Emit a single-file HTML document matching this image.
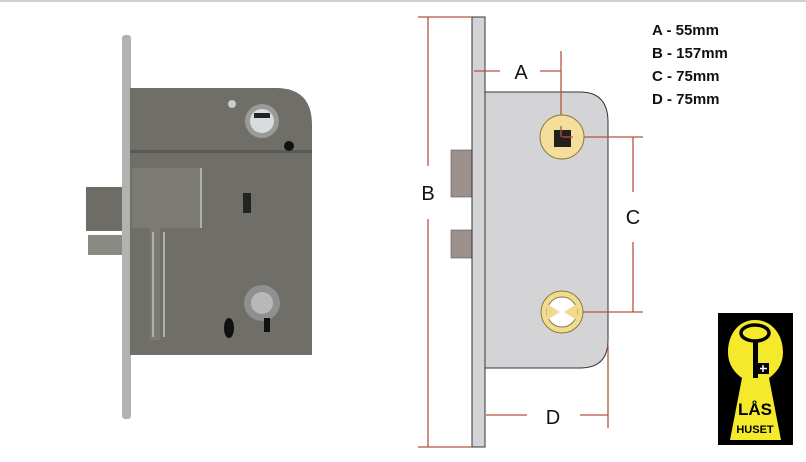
<!DOCTYPE html>
<html><head><meta charset="utf-8"><style>
html,body{margin:0;padding:0;background:#fff;width:806px;height:462px;overflow:hidden}
svg{display:block}
</style></head><body>
<svg width="806" height="462" viewBox="0 0 806 462" xmlns="http://www.w3.org/2000/svg">
<rect width="806" height="462" fill="#fff"/>
<rect x="0" y="0" width="806" height="2" fill="#cfcfcf"/>
<!-- photo lock -->
<rect x="86" y="187" width="40" height="44" fill="#6d6c67"/>
<rect x="88" y="235" width="38" height="20" fill="#8a8a84"/>
<rect x="122" y="35" width="9" height="384" rx="3" fill="#b2b2ae"/>
<path d="M130 88 H276 Q312 88 312 125 V355 H130 Z" fill="#6f6e69"/>
<rect x="130" y="150" width="182" height="3" fill="#5a5955"/>
<path d="M132 168 H200 V228 H160 V340 H150 V228 H132 Z" fill="#7b7a75"/>
<rect x="200" y="168" width="2" height="60" fill="#b0b0aa"/>
<rect x="152" y="232" width="2" height="105" fill="#b0b0aa"/>
<rect x="163" y="232" width="2" height="105" fill="#b0b0aa"/>
<circle cx="262" cy="121" r="17" fill="#9a9a96"/>
<circle cx="262" cy="121" r="12" fill="#d8dbe0"/>
<rect x="254" y="113" width="16" height="5" fill="#222"/>
<circle cx="289" cy="146" r="5" fill="#111"/>
<circle cx="232" cy="104" r="4" fill="#ccc"/>
<circle cx="262" cy="303" r="18" fill="#909090"/>
<circle cx="262" cy="303" r="11" fill="#b8b8b8"/>
<rect x="264" y="318" width="6" height="14" fill="#111"/>
<ellipse cx="229" cy="328" rx="5" ry="10" fill="#111"/>
<rect x="243" y="193" width="8" height="20" fill="#222"/>
<!-- diagram -->
<rect x="451" y="150" width="21" height="47" fill="#9c918c" stroke="#555" stroke-width="0.6"/>
<rect x="451" y="230" width="21" height="28" fill="#9c918c" stroke="#555" stroke-width="0.6"/>
<rect x="472" y="17" width="13" height="430" fill="#d4d4d6" stroke="#333" stroke-width="1"/>
<path d="M485 92 H580 Q608 92 608 122 V340 Q608 368 580 368 H485 Z" fill="#d4d4d6" stroke="#333" stroke-width="1"/>
<g stroke="#b5543d" stroke-width="1.3" fill="none">
<path d="M418 17 H472 M428 17 V166 M428 219 V447 M418 447 H472"/>
<path d="M474 71 H500 M540 71 H561 M561 51 V137"/>
<path d="M562 137 H643 M633 137 V192 M633 242 V312 M572 312 H643"/>
<path d="M486 415 H527 M580 415 H608 M608 345 V428"/>
</g>
<circle cx="562" cy="137" r="22" fill="#f5dd9c" stroke="#8a7a40" stroke-width="1"/>
<rect x="554" y="130" width="17" height="17" fill="#231f1c"/>
<path d="M562 137 H573 M561 126 V137" stroke="#b5543d" stroke-width="1.3"/>
<circle cx="562" cy="312" r="21" fill="#f0dc90" stroke="#8a7a40" stroke-width="1"/>
<circle cx="562" cy="312" r="15" fill="#fff" stroke="#8a7a40" stroke-width="1"/>
<path d="M547 304 L560 312 L547 320 Z M577 304 L564 312 L577 320 Z" fill="#f3d98e"/>
<g font-family="Liberation Sans, sans-serif" font-size="20" fill="#111" text-anchor="middle">
<text x="521" y="79">A</text>
<text x="428" y="200">B</text>
<text x="633" y="224">C</text>
<text x="553" y="424">D</text>
</g>
<g font-family="Liberation Sans, sans-serif" font-size="15" font-weight="bold" fill="#111">
<text x="652" y="35">A - 55mm</text>
<text x="652" y="58">B - 157mm</text>
<text x="652" y="81">C - 75mm</text>
<text x="652" y="104">D - 75mm</text>
</g>
<!-- logo -->
<rect x="718" y="313" width="75" height="132" fill="#000"/>
<path d="M755 320 C738 320 728 335 728 352 C728 365 735 373 742 378 L730 440 H781 L769 378 C776 373 783 365 783 352 C783 335 772 320 755 320 Z" fill="#f5e92c"/>
<ellipse cx="755" cy="333" rx="14" ry="8" fill="none" stroke="#000" stroke-width="3.5"/>
<rect x="753" y="340" width="5" height="38" fill="#000"/>
<rect x="758" y="363" width="11" height="11" fill="#000"/>
<path d="M763 365 v7 M760 368.5 h7" stroke="#fff" stroke-width="1.5"/>
<text x="755" y="415" text-anchor="middle" font-family="Liberation Sans, sans-serif" font-weight="bold" font-size="17" fill="#000">LÅS</text>
<text x="755" y="433" text-anchor="middle" font-family="Liberation Sans, sans-serif" font-weight="bold" font-size="11" fill="#000">HUSET</text>
</svg>
</body></html>
